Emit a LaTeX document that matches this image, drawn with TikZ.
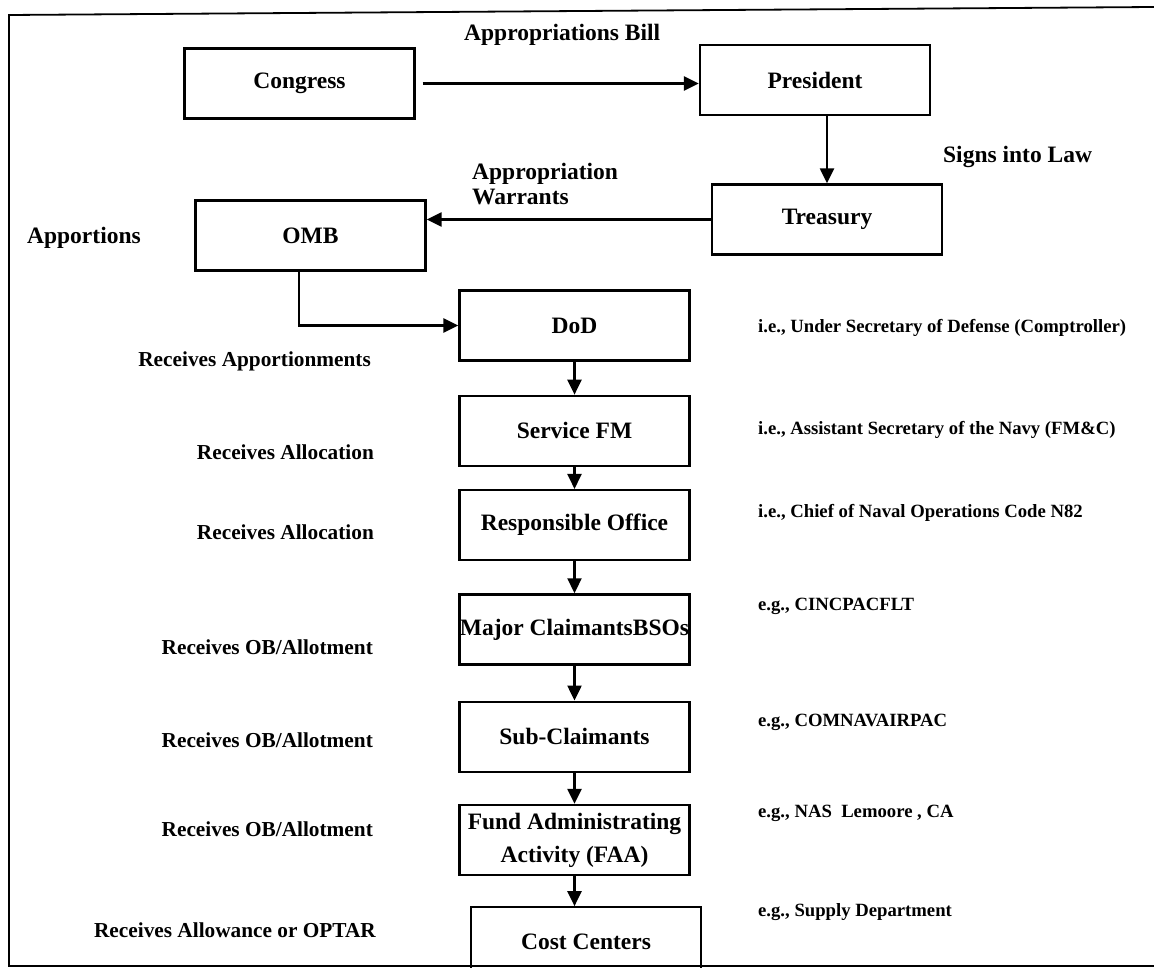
\documentclass[tikz,border=0pt]{standalone}
\usepackage{fontspec}
\setmainfont{Liberation Serif}
\usetikzlibrary{positioning,arrows.meta}

\tikzset{
  stage/.style={draw,minimum width=230pt,minimum height=70pt,inner sep=2pt,align=center,
    font=\fontsize{23.5}{33}\selectfont\bfseries},
  flowlbl/.style={inner sep=0pt,anchor=west,font=\fontsize{23.5}{25}\selectfont\bfseries},
  getlbl/.style={inner sep=0pt,anchor=east,font=\fontsize{21.3}{24}\selectfont\bfseries},
  eglbl/.style={inner sep=0pt,anchor=west,font=\fontsize{18.7}{22}\selectfont\bfseries},
}

\begin{document}
\begin{tikzpicture}[x=1pt,y=-1pt,line width=2.3pt,>={Triangle[length=15pt,width=14pt]}]
        \useasboundingbox (0,0) rectangle (1154,968);
        \draw[line width=1.8pt] (1154,7) -- (9,15) -- (9,966) -- (1154,966);

        \node[stage] (congress) at (299.5,83.5) {Congress};
        \node[stage] (president) at (815,80) {President};
        \node[stage] (treasury) at (827,219.5) {Treasury};
        \node[stage] (omb) at (310.5,235.5) {OMB};
        \node[stage] (dod) at (574.5,325.5) {DoD};
        \node[stage] (sfm) [below=33pt of dod] {Service FM};
        \node[stage] (resp) [below=22pt of sfm] {Responsible Office};
        \node[stage] (major) [below=32pt of resp] {\makebox[0pt]{Major ClaimantsBSOs}};
        \node[stage] (sub) [below=35pt of major] {Sub-Claimants};
        \node[stage] (faa) [below=31pt of sub] {Fund Administrating\\Activity (FAA)};
        \node[stage] (cost) [below=30pt of faa,xshift=11.5pt] {Cost Centers};

        \node[flowlbl] (bill) at (463,35) {Appropriations Bill};
        \node[flowlbl] (signs) at (942,157) {Signs into Law};
        \node[flowlbl,align=left] (warrants) at (471,184.5) {Appropriation\\Warrants};
        \node[flowlbl] (apportions) at (26,238) {Apportions};

        \node[getlbl] (getdod) at (372,361) {Receives Apportionments};
        \node[getlbl] (getsfm) at (375,452) {Receives Allocation};
        \node[getlbl] (getresp) at (375,532) {Receives Allocation};
        \node[getlbl] (getmajor) at (374,647) {Receives OB/Allotment};
        \node[getlbl] (getsub) at (374,740) {Receives OB/Allotment};
        \node[getlbl] (getfaa) at (374,829) {Receives OB/Allotment};
        \node[getlbl] (getcost) at (377,930) {Receives Allowance or OPTAR};

        \node[eglbl] (egdod) at (757,328) {i.e., Under Secretary of Defense (Comptroller)};
        \node[eglbl] (egsfm) at (757,430) {i.e., Assistant Secretary of the Navy (FM\&C)};
        \node[eglbl] (egresp) at (757,513) {i.e., Chief of Naval Operations Code N82};
        \node[eglbl] (egmajor) at (757,606) {e.g., CINCPACFLT};
        \node[eglbl] (egsub) at (757,722) {e.g., COMNAVAIRPAC};
        \node[eglbl] (egfaa) at (757,813) {e.g., NAS~ Lemoore , CA};
        \node[eglbl] (egcost) at (757,912) {e.g., Supply Department};

        % money flow
        \draw[->,shorten <=7pt] (congress.east) -- (congress.east -| president.west);
        \draw[->] (treasury.north |- president.south) -- (treasury.north);
        \draw[->] (treasury.west) -- (treasury.west -| omb.east);
        \draw[->] ([xshift=-11.5pt]omb.south) |- (dod.west);
        \path[->] (dod) edge (sfm)
                  (sfm) edge (resp)
                  (resp) edge (major)
                  (major) edge (sub)
                  (sub) edge (faa);
        \draw[->] (faa.south) -- (faa.south |- cost.north);
\end{tikzpicture}
\end{document}
